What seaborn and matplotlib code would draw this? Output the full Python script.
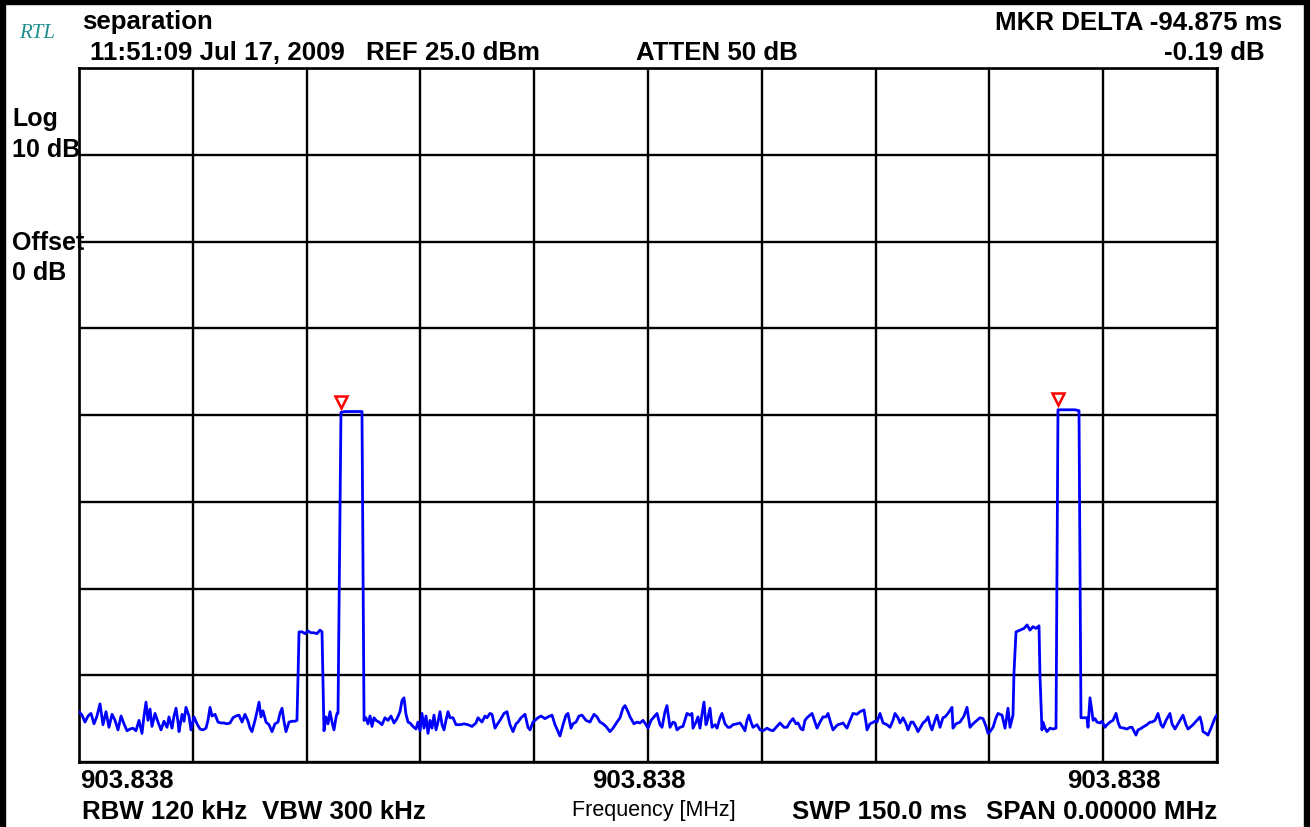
import numpy as np
import pandas as pd
import matplotlib
matplotlib.use("Agg")
import matplotlib.pyplot as plt
import matplotlib.transforms as mtransforms
from matplotlib.patches import Rectangle
import seaborn as sns

# ---------------- data (zero-span sweep, 150 ms, REF 25 dBm, 10 dB/div) ----------------
sweep_ms = [
    0.00, 0.40, 0.79, 1.19, 1.58, 1.98, 2.37, 2.77, 3.16, 3.56, 3.95, 4.35, 4.75, 5.14, 5.54, 5.93,
    6.33, 6.72, 7.12, 7.51, 7.91, 8.30, 8.57, 8.83, 9.09, 9.36, 9.62, 10.02, 10.41, 10.81, 11.20,
    11.60, 11.86, 12.26, 12.52, 12.79, 13.05, 13.18, 13.58, 13.84, 14.10, 14.50, 14.76, 15.16, 15.55,
    15.95, 16.34, 16.74, 17.00, 17.27, 17.53, 17.93, 18.32, 18.72, 19.11, 19.51, 19.90, 20.30, 20.69,
    21.09, 21.49, 21.88, 22.28, 22.54, 22.80, 23.20, 23.46, 23.73, 23.99, 24.25, 24.65, 25.04, 25.44,
    25.83, 26.23, 26.49, 26.76, 27.02, 27.28, 27.68, 28.08, 28.47, 28.73,
    28.87, 29.00, 29.39, 29.79, 30.18, 30.58, 30.97, 31.37, 31.77, 32.03, 32.16, 32.29,
    32.56, 32.82, 33.08, 33.35, 33.61, 33.87, 34.01, 34.14, 34.27, 34.40, 34.53, 35.06, 35.72,
    36.38, 37.04, 37.30, 37.43, 37.57,
    37.83, 38.09, 38.36, 38.62, 38.88, 39.15, 39.54, 39.94, 40.33, 40.73, 41.12, 41.52, 41.92, 42.31,
    42.58, 42.84, 43.10, 43.37, 43.63, 44.02, 44.42, 44.68, 44.95, 45.21, 45.47, 45.74, 46.00, 46.27,
    46.53, 46.79, 47.06, 47.32, 47.58, 47.85, 48.11, 48.37, 48.64, 48.90, 49.30, 49.69, 50.22, 50.75,
    51.27, 51.80, 52.33, 52.59, 53.12, 53.51, 53.78, 54.17, 54.44, 54.83, 55.10, 55.49, 56.02, 56.41,
    56.81, 57.21, 57.60, 57.86, 58.26, 58.79, 59.18, 59.45, 59.84, 60.11, 60.50, 60.90, 61.42, 61.82,
    62.35, 62.74, 63.14, 63.40, 63.80, 64.19, 64.45, 64.85, 65.11, 65.51, 65.91, 66.30, 66.83, 67.35,
    67.88, 68.28, 68.67, 69.07, 69.46, 69.99, 70.39, 70.91, 71.31, 71.70, 71.97, 72.36, 72.63, 73.15,
    73.55, 73.95, 74.34, 74.74, 75.00, 75.40, 75.79, 76.19, 76.58, 76.85, 77.24, 77.50, 77.90, 78.30,
    78.56, 78.82, 79.22, 79.61, 80.14, 80.54, 80.80, 80.93, 81.33, 81.59, 81.85, 82.12, 82.38, 82.64,
    82.78, 83.17, 83.44, 83.83, 84.10, 84.49, 84.75, 85.15, 85.54, 85.81, 86.20, 86.73, 87.13, 87.52,
    87.78, 88.05, 88.31, 88.58, 88.84, 89.37, 89.76, 90.16, 90.69, 91.08, 91.48, 92.00, 92.40, 92.93,
    93.32, 93.72, 94.11, 94.51, 94.77, 95.17, 95.43, 95.69, 95.96, 96.35, 96.62, 97.01, 97.28, 97.67,
    98.07, 98.46, 98.73, 99.12, 99.39, 99.78, 100.04, 100.44, 100.70, 101.23, 101.63, 102.02, 102.55,
    102.94, 103.47, 103.73, 103.87, 104.26, 104.53, 104.92, 105.18, 105.58, 105.98, 106.50, 106.90,
    107.29, 107.56, 107.95, 108.22, 108.61, 109.01, 109.27, 109.67, 109.93, 110.33, 110.59, 110.98,
    111.25, 111.64, 111.91, 112.17, 112.43, 112.83, 113.09, 113.49, 113.88, 114.15, 114.54, 115.07,
    115.20, 115.60, 116.12, 116.65, 117.05, 117.44, 117.84, 118.37, 118.76, 119.16, 119.55, 119.82,
    120.08, 120.48, 120.87, 121.13, 121.66, 122.06, 122.45, 122.72, 123.11,
    123.24, 123.51, 124.03, 124.56, 124.96, 125.35, 125.75, 126.14, 126.54, 126.67, 126.93, 127.06,
    127.33, 127.59, 127.99, 128.38, 128.78, 128.91, 129.04, 129.57, 130.10, 130.62, 131.28, 131.81,
    131.94, 132.07,
    132.47, 132.86, 133.00, 133.26, 133.52, 133.66, 133.92, 134.18, 134.58, 134.84, 135.24, 135.50,
    135.90, 136.29, 136.69, 136.95, 137.21, 137.74, 138.14, 138.53, 138.80, 139.32, 139.59, 139.85,
    140.38, 140.77, 141.17, 141.43, 141.83, 142.22, 142.62, 142.88, 143.28, 143.80, 144.07, 144.46,
    144.99, 145.52, 145.91, 146.18, 146.57, 146.84, 147.36, 147.76, 148.02, 148.15, 148.55, 148.81,
    149.21, 149.47, 149.74, 150.00,
]

level_dbm = [
    -49.2, -49.6, -50.4, -49.7, -49.4, -50.6, -49.7, -48.3, -50.7, -49.2, -51.0, -49.5, -50.2, -51.3, -49.7, -50.6,
    -51.4, -51.2, -51.1, -51.4, -50.2, -51.7, -49.7, -48.1, -50.2, -48.9, -50.9, -49.4, -50.4, -51.3, -50.3,
    -51.0, -49.8, -51.1, -49.7, -48.8, -50.4, -51.5, -49.5, -50.3, -48.7, -49.7, -51.3, -49.8, -50.6,
    -51.2, -51.3, -51.1, -50.2, -48.7, -49.7, -49.5, -50.4, -50.5, -50.5, -50.6, -50.5, -49.9, -49.7,
    -49.6, -50.4, -49.5, -50.3, -51.1, -51.5, -50.2, -49.2, -48.1, -49.8, -49.1, -50.4, -50.7, -51.5,
    -50.6, -50.4, -49.4, -48.8, -50.3, -51.5, -50.4, -50.3, -50.3, -50.2,
    -45.2, -40.0, -40.0, -40.2, -39.9, -40.1, -40.1, -40.2, -39.8, -40.0, -45.8, -51.4,
    -49.8, -50.6, -49.2, -50.4, -51.3, -49.9, -49.4, -49.4, -37.5, -26.2, -14.7, -14.6, -14.6,
    -14.6, -14.6, -14.6, -32.6, -50.2,
    -49.9, -50.6, -49.7, -50.9, -49.9, -50.2, -50.4, -50.7, -49.9, -50.2, -49.7, -50.5, -50.0, -49.2,
    -47.9, -47.6, -49.5, -50.4, -50.5, -50.9, -51.2, -50.4, -51.4, -49.4, -51.1, -49.7, -51.7, -50.2,
    -51.1, -49.6, -51.3, -50.4, -49.2, -50.7, -51.3, -50.2, -49.2, -49.9, -49.9, -50.7, -50.7, -50.6,
    -50.7, -50.9, -50.5, -49.9, -50.4, -49.7, -49.9, -49.4, -49.5, -51.1, -50.7, -50.2, -49.4, -49.2,
    -50.7, -51.5, -50.6, -50.4, -49.9, -49.5, -51.0, -51.3, -50.4, -50.2, -49.9, -49.7, -50.0, -49.8,
    -49.6, -50.7, -51.5, -52.0, -50.7, -49.6, -49.4, -51.1, -50.6, -50.4, -49.7, -49.6, -50.2, -50.4,
    -49.5, -49.8, -50.4, -50.6, -50.9, -51.5, -51.1, -50.4, -49.9, -48.8, -48.5, -49.2, -49.8, -50.6,
    -50.4, -50.5, -50.2, -50.7, -51.1, -50.2, -49.8, -49.4, -50.7, -51.0, -49.2, -48.5, -51.0, -50.4,
    -50.5, -51.3, -51.0, -50.9, -49.4, -49.6, -49.4, -51.1, -50.4, -49.8, -51.1, -49.5, -48.1, -50.7,
    -50.4, -48.8, -51.0, -50.7, -51.1, -49.9, -49.4, -50.6, -51.0, -51.0, -50.7, -50.6, -50.5, -51.0,
    -51.4, -50.2, -49.6, -50.4, -51.0, -50.7, -51.3, -51.4, -51.1, -51.3, -51.4, -50.9, -50.5, -51.0,
    -51.0, -50.4, -50.0, -50.6, -50.5, -51.2, -51.3, -50.2, -49.9, -49.6, -49.4, -50.4, -51.1, -50.4,
    -49.8, -49.8, -49.4, -50.6, -51.3, -50.9, -50.7, -50.6, -50.5, -51.1, -50.2, -49.4, -49.5,
    -49.2, -49.0, -50.4, -51.3, -50.6, -50.5, -50.3, -50.4, -49.4, -50.5, -50.7, -51.0,
    -50.2, -49.4, -49.9, -50.5, -49.9, -50.6, -51.3, -50.4, -50.4, -51.0, -51.5, -50.9,
    -50.5, -50.2, -49.8, -50.7, -51.3, -50.2, -49.6, -51.0, -49.9, -49.8, -49.4, -48.7,
    -51.1, -50.6, -50.4, -49.7, -48.7, -51.0, -50.6, -50.2, -49.9, -50.0, -50.9, -51.7,
    -51.5, -51.0, -49.9, -49.4, -49.6, -51.1, -48.8, -51.0, -49.6,
    -44.7, -40.0, -39.8, -39.6, -39.2, -39.8, -39.4, -39.6, -39.3, -45.2, -51.3, -50.4,
    -51.1, -51.5, -51.1, -51.2, -51.1, -32.6, -14.4, -14.4, -14.4, -14.4, -14.4, -14.5,
    -32.3, -49.9,
    -49.9, -49.9, -51.0, -47.6, -49.2, -50.2, -50.0, -50.4, -50.5, -50.3, -51.0, -50.7,
    -50.4, -50.2, -49.4, -50.4, -51.0, -51.1, -51.2, -51.0, -51.0, -51.9, -51.3, -51.2,
    -50.9, -50.7, -50.4, -50.4, -50.2, -49.4, -50.7, -51.0, -50.2, -49.4, -50.6, -51.2,
    -50.4, -49.6, -50.7, -51.2, -50.9, -50.7, -50.2, -49.8, -50.7, -51.5, -51.7, -51.9,
    -51.1, -50.5, -49.9, -49.6,
]

marker_ms = [34.53, 129.04]          # marker positions (delta = -94.5 ms)
x_tick_labels = ["903.838", "903.838", "903.838"]
ref_level = 25.0
db_per_div = 10
n_ydiv = 8
sweep_total = 150.0
n_xdiv = 10

# ---------------- figure ----------------
W, H = 1310, 827
sns.set_theme(style="white")
plt.rcParams["font.family"] = ["Liberation Sans", "DejaVu Sans"]

fig = plt.figure(figsize=(W / 100, H / 100), dpi=100)
fig.patch.set_facecolor("white")

def fx(px):
    return px / W

def fy(py):
    return 1 - py / H

ax = fig.add_axes([fx(79), fy(762), fx(1217) - fx(79), fy(68) - fy(762)])
ax.set_facecolor("white")

df = pd.DataFrame({"t": sweep_ms, "lvl": level_dbm})
sns.lineplot(data=df, x="t", y="lvl", ax=ax, color="#0000ff", linewidth=2.0,
             sort=False, estimator=None, zorder=3)

ax.set_xlim(0, sweep_total)
ax.set_ylim(ref_level - db_per_div * n_ydiv, ref_level)
ax.set_xticks(np.linspace(0, sweep_total, n_xdiv + 1))
ax.set_yticks(np.arange(ref_level - db_per_div * n_ydiv, ref_level + 0.1, db_per_div))
ax.grid(True, color="black", linewidth=1.7, zorder=1)
ax.set_axisbelow(True)
ax.tick_params(length=0, labelbottom=False, labelleft=False)
ax.set_xlabel("")
ax.set_ylabel("")
for s in ax.spines.values():
    s.set_color("black")
    s.set_linewidth(1.9)

# markers (hollow red triangles above the peaks)
mk_lvl = np.interp(marker_ms, sweep_ms, level_dbm)
off = mtransforms.offset_copy(ax.transData, fig=fig, y=7.5, units="points")
ax.plot(marker_ms, mk_lvl, linestyle="none", marker="v", markersize=9,
        markerfacecolor="none", markeredgecolor="red", markeredgewidth=1.8,
        transform=off, zorder=4, clip_on=False)

# ---------------- annotation texts ----------------
bold = dict(fontsize=18.6, fontweight="bold", color="black")
side = dict(fontsize=18.0, fontweight="bold", color="black")

fig.text(fx(19), fy(38), "RTL", fontsize=15, style="italic", color="#1f8f8f",
         family=["Liberation Serif", "DejaVu Serif"], va="baseline")
fig.text(fx(82), fy(29), "separation", va="baseline", **bold)
fig.text(fx(90), fy(60), "11:51:09 Jul 17, 2009", va="baseline", **bold)
fig.text(fx(366), fy(60), f"REF {ref_level:.1f} dBm", va="baseline", **bold)
fig.text(fx(636), fy(60), "ATTEN 50 dB", va="baseline", **bold)
fig.text(fx(1282), fy(30), "MKR DELTA -94.875 ms", va="baseline", ha="right", **bold)
fig.text(fx(1265), fy(60), "-0.19 dB", va="baseline", ha="right", **bold)

fig.text(fx(12), fy(126), "Log", va="baseline", **side)
fig.text(fx(12), fy(157), "10 dB", va="baseline", **side)
fig.text(fx(12), fy(250), "Offset", va="baseline", **side)
fig.text(fx(12), fy(280), "0 dB", va="baseline", **side)

fig.text(fx(80), fy(788), x_tick_labels[0], va="baseline", **bold)
fig.text(fx(592), fy(788), x_tick_labels[1], va="baseline", **bold)
fig.text(fx(1067), fy(788), x_tick_labels[2], va="baseline", **bold)

fig.text(fx(82), fy(819), "RBW 120 kHz", va="baseline", **bold)
fig.text(fx(262), fy(819), "VBW 300 kHz", va="baseline", **bold)
fig.text(fx(572), fy(816), "Frequency [MHz]", va="baseline", fontsize=15.5, color="black")
fig.text(fx(792), fy(819), "SWP 150.0 ms", va="baseline", **bold)
fig.text(fx(1217), fy(819), "SPAN 0.00000 MHz", va="baseline", ha="right", **bold)

# ---------------- outer frame of the screenshot ----------------
for (x0, y0, w, h) in [(0, 0, 5, H), (0, 0, W, 4), (W - 6, 0, 6, H)]:
    fig.add_artist(Rectangle((fx(x0), fy(y0 + h)), w / W, h / H,
                             transform=fig.transFigure, color="black", zorder=10))

fig.savefig("out.png", dpi=100, facecolor="white")
